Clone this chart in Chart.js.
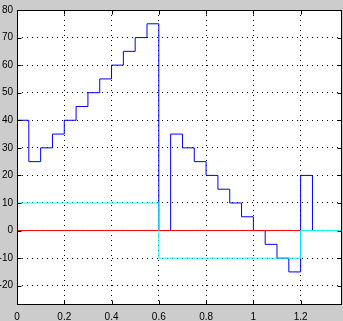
<!DOCTYPE html>
<html>
<head>
<meta charset="utf-8">
<script src="https://cdn.jsdelivr.net/npm/chart.js@4.4.1/dist/chart.umd.min.js"></script>
<style>
  body { margin: 0; background: #cccccc; }
  #wrap { width: 343px; height: 321px; }
</style>
</head>
<body>
<div id="wrap"><canvas id="myChart"></canvas></div>
<script>
// stair data (value holds from x[i] to x[i+1])
const blueX = [0, 0.05, 0.1, 0.15, 0.2, 0.25, 0.3, 0.35, 0.4, 0.45, 0.5, 0.55,
               0.6, 0.65, 0.7, 0.75, 0.8, 0.85, 0.9, 0.95, 1.0, 1.05, 1.1, 1.15, 1.2, 1.25];
const blueY = [40, 25, 30, 35, 40, 45, 50, 55, 60, 65, 70, 75,
               0, 35, 30, 25, 20, 15, 10, 5, 0, -5, -10, -15, 20, 0];
const cyanX = [0, 0.6, 1.2, 1.375];
const cyanY = [10, -10, 0, 0];
const redX = [0, 1.2];
const redY = [0, 0];

const xTicks = [0, 0.2, 0.4, 0.6, 0.8, 1, 1.2];
const yTicks = [-20, -10, 0, 10, 20, 30, 40, 50, 60, 70, 80];

function pts(xs, ys) {
    return xs.map((x, i) => ({ x: x, y: ys[i] }));
}

// frame + inward tick marks, matlab style
const frame = {
    id: 'frame',
    beforeDraw(chart) {
        const c = chart.ctx, a = chart.chartArea;
        c.save();
        c.fillStyle = '#cccccc';
        c.fillRect(0, 0, chart.width, chart.height);
        c.fillStyle = '#ffffff';
        c.fillRect(a.left, a.top, a.right - a.left, a.bottom - a.top);
        c.restore();
    },
    afterDraw(chart) {
        const c = chart.ctx, a = chart.chartArea;
        const sx = chart.scales.x, sy = chart.scales.y;
        const L = Math.round(a.left) + 0.5, R = Math.round(a.right) - 0.5;
        const T = Math.round(a.top) + 0.5, B = Math.round(a.bottom) - 0.5;
        c.save();
        c.strokeStyle = '#000';
        c.lineWidth = 1;
        c.beginPath();
        xTicks.forEach(v => {
            const px = Math.round(sx.getPixelForValue(v)) + 0.5;
            c.moveTo(px, B); c.lineTo(px, B - 4);
            c.moveTo(px, T); c.lineTo(px, T + 4);
        });
        yTicks.forEach(v => {
            const py = Math.round(sy.getPixelForValue(v)) + 0.5;
            c.moveTo(L, py); c.lineTo(L + 4, py);
            c.moveTo(R, py); c.lineTo(R - 4, py);
        });
        c.stroke();
        c.strokeRect(L, T, R - L, B - T);
        c.restore();
    }
};

const tickFont = { family: "'Liberation Sans', Arial, sans-serif", size: 10 };

new Chart(document.getElementById('myChart'), {
    type: 'line',
    data: {
        datasets: [{
            data: pts(cyanX, cyanY),
            borderColor: '#00ffff',
            borderWidth: 1,
            stepped: true,
            pointRadius: 0
        }, {
            data: pts(redX, redY),
            borderColor: '#ff0000',
            borderWidth: 1,
            pointRadius: 0
        }, {
            data: pts(blueX, blueY),
            borderColor: '#0000ff',
            borderWidth: 1,
            stepped: true,
            pointRadius: 0
        }]
    },
    options: {
        responsive: true,
        maintainAspectRatio: false,
        animation: false,
        layout: { padding: { top: 7, right: 1, left: 0, bottom: 0 } },
        scales: {
            x: {
                type: 'linear',
                min: 0,
                max: 1.375,
                afterFit: s => { s.height = 16; },
                grid: { color: '#000', drawTicks: false },
                border: { display: false, dash: [1, 4] },
                ticks: {
                    stepSize: 0.2,
                    includeBounds: false,
                    autoSkip: false,
                    maxRotation: 0,
                    padding: 6,
                    color: '#000',
                    font: tickFont,
                    callback: v => String(+v.toFixed(1))
                }
            },
            y: {
                min: -27,
                max: 80,
                afterFit: s => { s.width = 17; },
                grid: { color: '#000', drawTicks: false },
                border: { display: false, dash: [1, 4] },
                ticks: {
                    stepSize: 10,
                    includeBounds: false,
                    padding: 4,
                    color: '#000',
                    font: tickFont
                }
            }
        },
        plugins: {
            legend: { display: false },
            tooltip: { enabled: false }
        }
    },
    plugins: [frame]
});
</script>
</body>
</html>
